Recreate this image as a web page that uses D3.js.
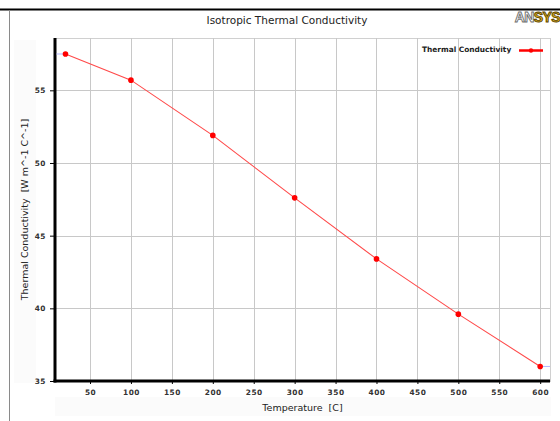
<!DOCTYPE html>
<html>
<head>
<meta charset="utf-8">
<script src="https://cdn.jsdelivr.net/npm/d3@7"></script>
<style>
  body { margin: 0; background: #fff; }
  svg { display: block; font-family: "DejaVu Sans", sans-serif; }
  text { white-space: pre; }
</style>
</head>
<body>
<div id="chart"></div>
<script>
// values
var temperatures = [20, 100, 200, 300, 400, 500, 600];
var conductivity = [57.5, 55.7, 51.9, 47.6, 43.4, 39.6, 36.0];
var xTicks = [50, 100, 150, 200, 250, 300, 350, 400, 450, 500, 550, 600];
var yTicks = [35, 40, 45, 50, 55];
var titleText = "Isotropic Thermal Conductivity";
var xLabel = "Temperature  [C]";
var yLabel = "Thermal Conductivity  [W m^-1 C^-1]";
var seriesName = "Thermal Conductivity";

var W = 560, H = 421;
var margin = { top: 38, right: 10, bottom: 40, left: 55 };
var width = W - margin.left - margin.right,
    height = H - margin.top - margin.bottom;

var svg = d3.select("#chart").append("svg")
    .attr("width", W)
    .attr("height", H);

// frame: black top rule + grey left border
svg.append("line")
    .attr("x1", 0).attr("x2", W).attr("y1", 9.5).attr("y2", 9.5)
    .attr("stroke", "#000").attr("stroke-width", 2);
svg.append("line")
    .attr("x1", 9.5).attr("x2", 9.5).attr("y1", 10).attr("y2", H)
    .attr("stroke", "#8a8a8a").attr("stroke-width", 1);

// faint label panels
svg.append("rect").attr("x", 14).attr("y", 40).attr("width", 22).attr("height", 343).attr("fill", "#fbfbfb");
svg.append("rect").attr("x", 55).attr("y", 397).attr("width", 496).attr("height", 19).attr("fill", "#fbfbfb");

// title
svg.append("text")
    .attr("x", 287).attr("y", 24)
    .attr("text-anchor", "middle")
    .attr("font-size", "10.5px")
    .attr("fill", "#222")
    .text(titleText);

// logo
var logo = svg.append("text")
    .attr("x", 560).attr("y", 22)
    .attr("text-anchor", "end")
    .attr("font-family", "Liberation Sans, Arial, sans-serif")
    .attr("font-weight", "bold")
    .attr("font-size", "14px")
    .attr("letter-spacing", "-0.6px")
    .attr("stroke-width", 0.9);
logo.append("tspan").attr("fill", "#fff").attr("stroke", "#6f6f6f").text("AN");
logo.append("tspan").attr("fill", "#e3b21c").attr("stroke", "#5a4500").text("SYS");

var g = svg.append("g")
    .attr("transform", "translate(" + margin.left + "," + margin.top + ")");

var x = d3.scaleLinear().domain([7.2, 612]).range([0, width]);
var y = d3.scaleLinear().domain([35, 58.6]).range([height, 0]);

// plot border
g.append("rect")
    .attr("x", 0.5).attr("y", 0.5)
    .attr("width", width).attr("height", height)
    .attr("fill", "#fff").attr("stroke", "#d0d0d0");

// grid
g.selectAll(".vgrid").data(xTicks).enter().append("line")
    .attr("x1", function (d) { return Math.round(x(d)) + 0.5; })
    .attr("x2", function (d) { return Math.round(x(d)) + 0.5; })
    .attr("y1", 0).attr("y2", height)
    .attr("stroke", "#c8c8c8");
g.selectAll(".hgrid").data(yTicks).enter().append("line")
    .attr("y1", function (d) { return Math.round(y(d)) + 0.5; })
    .attr("y2", function (d) { return Math.round(y(d)) + 0.5; })
    .attr("x1", 0).attr("x2", width)
    .attr("stroke", "#c8c8c8");

// axes
var xAxis = g.append("g")
    .attr("transform", "translate(0," + height + ")")
    .call(d3.axisBottom(x).tickValues(xTicks).tickSize(3).tickPadding(6));
var yAxis = g.append("g")
    .call(d3.axisLeft(y).tickValues(yTicks).tickSize(5).tickPadding(4));

[xAxis, yAxis].forEach(function (ax) {
    ax.select(".domain").remove();
    ax.selectAll("line").attr("stroke", "#000");
    ax.selectAll("text")
        .attr("font-family", "DejaVu Sans, sans-serif")
        .attr("font-weight", "bold")
        .attr("font-size", "7.4px")
        .attr("letter-spacing", "0.5px")
        .attr("fill", "#333");
});

g.append("line").attr("x1", 0).attr("x2", 0).attr("y1", 0).attr("y2", height + 1.5)
    .attr("stroke", "#000").attr("stroke-width", 3);
g.append("line").attr("x1", -1.5).attr("x2", width).attr("y1", height).attr("y2", height)
    .attr("stroke", "#000").attr("stroke-width", 3);

// axis titles
svg.append("text")
    .attr("x", margin.left + width / 2).attr("y", 411)
    .attr("text-anchor", "middle")
    .attr("font-size", "9.5px")
    .attr("fill", "#222")
    .text(xLabel);
svg.append("text")
    .attr("transform", "translate(28," + (margin.top + height / 2) + ") rotate(-90)")
    .attr("text-anchor", "middle")
    .attr("font-size", "9.5px")
    .attr("fill", "#222")
    .text(yLabel);

// constant extrapolation stubs
var n = temperatures.length;
g.append("line")
    .attr("x1", 1.5).attr("x2", x(temperatures[0]))
    .attr("y1", y(conductivity[0])).attr("y2", y(conductivity[0]))
    .attr("stroke", "#b4b8ff");
g.append("line")
    .attr("x1", x(temperatures[n - 1])).attr("x2", width)
    .attr("y1", y(conductivity[n - 1])).attr("y2", y(conductivity[n - 1]))
    .attr("stroke", "#b4b8ff");

// series
var pts = temperatures.map(function (t, i) { return [t, conductivity[i]]; });
var line = d3.line()
    .x(function (d) { return x(d[0]); })
    .y(function (d) { return y(d[1]); });
g.append("path")
    .datum(pts)
    .attr("d", line)
    .attr("fill", "none")
    .attr("stroke", "#ff4a4a")
    .attr("stroke-width", 1.1);
g.selectAll(".pt").data(pts).enter().append("circle")
    .attr("cx", function (d) { return x(d[0]); })
    .attr("cy", function (d) { return y(d[1]); })
    .attr("r", 2.8)
    .attr("fill", "#ff0000");

// legend
svg.append("text")
    .attr("x", 422).attr("y", 52)
    .attr("font-weight", "bold")
    .attr("font-size", "7.4px")
    .attr("fill", "#222")
    .text(seriesName);
svg.append("line")
    .attr("x1", 519).attr("x2", 543).attr("y1", 50.5).attr("y2", 50.5)
    .attr("stroke", "#ff0000").attr("stroke-width", 2.5);
svg.append("circle")
    .attr("cx", 531).attr("cy", 50.5).attr("r", 2.2)
    .attr("fill", "#ff0000");
</script>
</body>
</html>
